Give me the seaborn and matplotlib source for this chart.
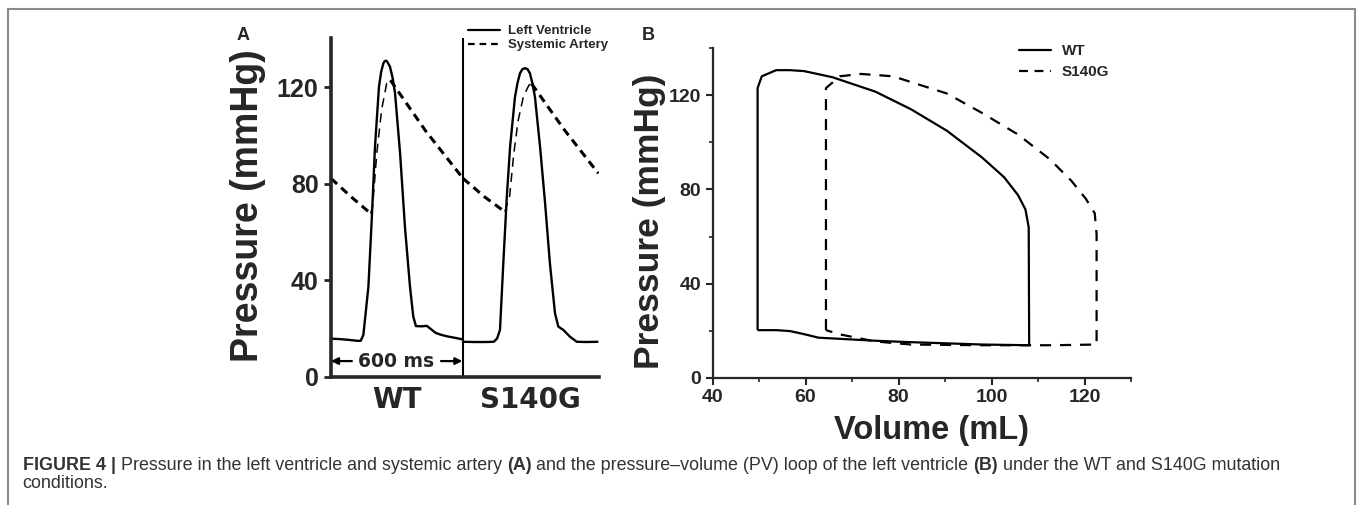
import numpy as np
import pandas as pd
import matplotlib
matplotlib.use("Agg")
import matplotlib.pyplot as plt
import seaborn as sns
from matplotlib.lines import Line2D
from matplotlib.patches import Rectangle
from matplotlib.font_manager import FontProperties
from matplotlib.ticker import MultipleLocator

# ---------------- data ----------------
# Panel A: pressure traces (time in ms, pressure in mmHg)
wt_lv_t = [0, 40, 80, 120, 135, 147, 159, 170, 185, 200, 218, 228, 238, 244, 250, 256, 268,
           280, 291, 314, 336, 359, 374, 386, 410, 435, 455, 475, 500, 530, 560, 598]
wt_lv_p = [15.9, 15.7, 15.4, 15.0, 15.0, 17.4, 27.8, 37.4, 65, 95.5, 120.3, 126.5, 130,
           130.9, 131.1, 130.6, 128.6, 124, 117.6, 92.7, 62.3, 37.4, 25, 21.1, 21.0, 21.2,
           19.8, 18.3, 17.5, 16.8, 16.3, 15.6]
mut_lv_t = [601, 650, 700, 740, 755, 768, 783, 799, 814, 836, 848, 859, 870, 882, 893, 904,
            916, 927, 950, 973, 995, 1018, 1033, 1056, 1086, 1117, 1160, 1215]
mut_lv_p = [14.6, 14.5, 14.5, 14.6, 16, 19.5, 47, 74.7, 95.5, 116, 122, 125.9, 127.6, 128,
            127.6, 125.9, 121.5, 116, 95.5, 72, 47, 26.4, 20.9, 19.5, 16.7, 14.6, 14.5, 14.6]
wt_sa_t = [0, 90, 180, 189, 208, 230, 253, 270, 430, 600]
wt_sa_p = [82.3, 74.8, 67.8, 70.6, 92.7, 110.7, 121.7, 123, 102, 82.3]
mut_sa_t = [600, 700, 790, 812, 830, 850, 875, 900, 912, 1060, 1215]
mut_sa_p = [82.3, 74.5, 68.5, 75, 92, 106, 116.5, 121, 121.5, 102.5, 84.4]

# Panel B: PV loops (volume mL, pressure mmHg)
wt_pv_v = [49.7, 49.7, 50.6, 53.7, 56.7, 59.7, 65.8, 75.0, 82.7, 90.4, 98.0, 102.7, 105.7,
           107.3, 108.0, 108.1, 98.0, 90.4, 82.7, 75.1, 62.8, 59.7, 56.7, 53.7, 49.7]
wt_pv_p = [20.3, 123, 128, 130.6, 130.6, 130.2, 127.6, 121.5, 114, 104.9, 93.5, 85.2, 77.6,
           71.5, 64, 13.9, 14.2, 14.7, 15.2, 15.8, 17.1, 18.6, 19.9, 20.3, 20.3]
mut_pv_v = [64.4, 64.4, 67.4, 71.9, 78.8, 90.4, 98.0, 105.7, 112.6, 117.2, 120.3, 122.2,
            122.6, 122.6, 113.4, 98.0, 82.7, 75.0, 67.4, 64.4]
mut_pv_p = [20.3, 123, 128, 129, 128, 120.7, 112.4, 103.3, 92.7, 83.6, 76, 69.9, 61, 14.2,
            13.9, 13.9, 14.2, 15.5, 18.5, 20.3]

a_legend = ["Left Ventricle", "Systemic Artery"]
b_legend = ["WT", "S140G"]
group_labels = ["WT", "S140G"]
group_centers = [300, 904]
yticks = [0, 40, 80, 120]
b_xticks = [40, 60, 80, 100, 120]

caption_parts = [("FIGURE 4", "bold"), ("|", "bold"),
                 ("Pressure in the left ventricle and systemic artery", "normal"),
                 ("(A)", "bold"),
                 ("and the pressure\u2013volume (PV) loop of the left ventricle", "normal"),
                 ("(B)", "bold"),
                 ("under the WT and S140G mutation", "normal")]
caption_line2 = "conditions."

# ---------------- style ----------------
sns.set_style("ticks")
plt.rcParams["font.family"] = ["Liberation Sans", "DejaVu Sans"]

W, H = 1357, 505
fig = plt.figure(figsize=(W / 100, H / 100), dpi=100)
fig.patch.set_facecolor("white")


def fx(x):
    return x / W


def fy(y):
    return 1 - y / H


def draw(ax, x, y, lw, dashes=None):
    df = pd.DataFrame({"x": x, "y": y})
    sns.lineplot(data=df, x="x", y="y", ax=ax, sort=False, estimator=None,
                 color="black", lw=lw, legend=False)
    ln = ax.lines[-1]
    if dashes is not None:
        ln.set_dashes(dashes)
    ln.set_solid_joinstyle("round")
    ln.set_solid_capstyle("butt")
    return ln


# ---------------- panel A ----------------
axA = fig.add_axes([fx(331), fy(377), fx(599 - 331), (377 - 38) / H])
draw(axA, wt_lv_t, wt_lv_p, 1.7)
draw(axA, mut_lv_t, mut_lv_p, 1.7)
dA = (2.7, 1.8)
draw(axA, wt_sa_t[:3], wt_sa_p[:3], 2.2, dA)
draw(axA, wt_sa_t[2:8], wt_sa_p[2:8], 1.1, (6, 4))
draw(axA, wt_sa_t[7:], wt_sa_p[7:], 2.2, dA)
draw(axA, mut_sa_t[:3], mut_sa_p[:3], 2.2, dA)
draw(axA, mut_sa_t[2:9], mut_sa_p[2:9], 1.1, (6, 4))
draw(axA, mut_sa_t[8:], mut_sa_p[8:], 2.2, dA)
axA.axvline(600, color="black", lw=1.5)
axA.set_xlim(0, 1218)
axA.set_ylim(0, 140.5)
axA.set_xticks([])
axA.set_yticks(yticks)
axA.set_xlabel("")
axA.set_ylabel("")
for s in ["top", "right"]:
    axA.spines[s].set_visible(False)
for s in ["left", "bottom"]:
    axA.spines[s].set_linewidth(2.6)
axA.tick_params(axis="y", direction="out", length=5, width=2, pad=4, labelsize=18)
for lab in axA.get_yticklabels():
    lab.set_fontweight("bold")
axA.set_facecolor("none")

# 600 ms annotation
ya = 6.6
axA.annotate("", xy=(0, ya), xytext=(95, ya),
             arrowprops=dict(arrowstyle="-|>", color="black", lw=1.6,
                             mutation_scale=10, shrinkA=0, shrinkB=0))
axA.annotate("", xy=(597, ya), xytext=(500, ya),
             arrowprops=dict(arrowstyle="-|>", color="black", lw=1.6,
                             mutation_scale=10, shrinkA=0, shrinkB=0))
axA.text(296, ya, "600 ms", ha="center", va="center", fontsize=13.5,
         fontweight="bold", family="DejaVu Sans")

for lab, c in zip(group_labels, group_centers):
    fig.text(fx(331 + c / 4.545), fy(400), lab, ha="center", va="center",
             fontsize=20, fontweight="bold", family="DejaVu Sans")

fig.text(fx(248), fy(206), "Pressure (mmHg)", rotation=90, ha="center", va="center",
         fontsize=27, fontweight="bold")
fig.text(fx(243), fy(35), "A", ha="center", va="center", fontsize=13, fontweight="bold")

hA = [Line2D([], [], color="black", lw=1.6),
      Line2D([], [], color="black", lw=1.6, dashes=(3, 2.2))]
axA.legend(hA, a_legend, loc="upper left", bbox_to_anchor=(fx(468), fy(25)),
           bbox_transform=fig.transFigure, frameon=False,
           prop=FontProperties(family="Liberation Sans", weight="bold", size=9.5),
           handlelength=2.4, handletextpad=0.6, labelspacing=0.15,
           borderpad=0, borderaxespad=0)

# ---------------- panel B ----------------
axB = fig.add_axes([fx(712.5), fy(378), fx(1131 - 712.5), (378 - 48) / H])
draw(axB, wt_pv_v, wt_pv_p, 1.6)
draw(axB, mut_pv_v, mut_pv_p, 1.6, (5, 4))
axB.set_xlim(40, 130)
axB.set_ylim(0, 140)
axB.set_xticks(b_xticks)
axB.set_yticks(yticks)
axB.xaxis.set_minor_locator(MultipleLocator(10))
axB.yaxis.set_minor_locator(MultipleLocator(20))
axB.set_xlabel("")
axB.set_ylabel("")
for s in ["top", "right"]:
    axB.spines[s].set_visible(False)
for s in ["left", "bottom"]:
    axB.spines[s].set_linewidth(1.6)
axB.tick_params(which="major", direction="out", length=5, width=1.5, pad=3, labelsize=14)
axB.tick_params(which="minor", direction="out", length=3, width=1.2)
for lab in axB.get_xticklabels() + axB.get_yticklabels():
    lab.set_fontweight("bold")
axB.set_facecolor("none")

fig.text(fx(932), fy(431), "Volume (mL)", ha="center", va="center",
         fontsize=23.5, fontweight="bold")
fig.text(fx(649), fy(221), "Pressure (mmHg)", rotation=90, ha="center", va="center",
         fontsize=25.5, fontweight="bold")
fig.text(fx(648), fy(35), "B", ha="center", va="center", fontsize=13, fontweight="bold")

hB = [Line2D([], [], color="black", lw=1.6),
      Line2D([], [], color="black", lw=1.6, dashes=(4, 3))]
axB.legend(hB, b_legend, loc="upper left", bbox_to_anchor=(fx(1019), fy(44)),
           bbox_transform=fig.transFigure, frameon=False,
           prop=FontProperties(family="Liberation Sans", weight="bold", size=11),
           handlelength=2.1, handletextpad=0.7, labelspacing=0.45,
           borderpad=0, borderaxespad=0)

# ---------------- caption & frame ----------------
cap_size = 12.85
cap_color = "#333333"
prev = fig.text(fx(22.7), fy(470), caption_parts[0][0], fontsize=cap_size,
                fontweight=caption_parts[0][1], color=cap_color, va="baseline", ha="left")
for txt, wt in caption_parts[1:]:
    prev = axA.annotate(
        txt, xy=(1, fy(470)), xycoords=(prev, "figure fraction"),
        xytext=(3.6, 0), textcoords="offset points", fontsize=cap_size,
        fontweight=wt, color=cap_color, va="baseline", ha="left", annotation_clip=False)
fig.text(fx(22.7), fy(488), caption_line2, fontsize=cap_size, color=cap_color,
         va="baseline", ha="left")

frame = Rectangle((fx(8), -0.1), fx(1355 - 8), fy(9) + 0.1, transform=fig.transFigure,
                  fill=False, edgecolor="#8a8a8a", lw=1.5)
fig.add_artist(frame)

fig.savefig("out.png", dpi=100, facecolor="white")
